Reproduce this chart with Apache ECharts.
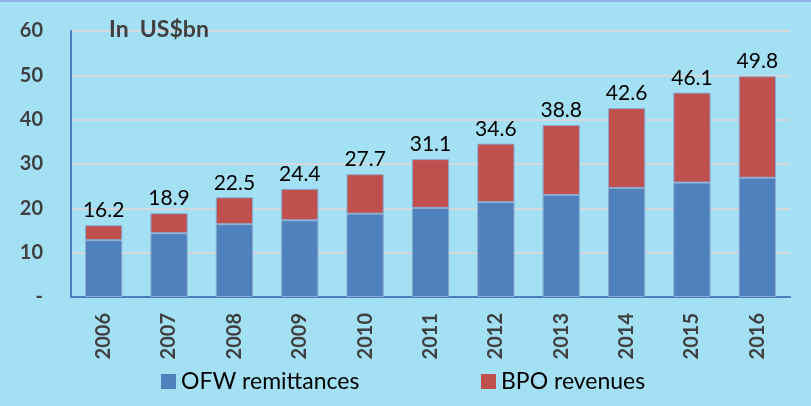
<!DOCTYPE html>
<html>
<head>
<meta charset="utf-8">
<script src="https://cdn.jsdelivr.net/npm/echarts@6/dist/echarts.min.js"></script>
<style>
  html, body { margin: 0; padding: 0; background: #a3e0f4; }
  #chart { width: 811px; height: 406px; }
</style>
</head>
<body>
<div id="chart"></div>
<script>
// Данные с картинки (млрд долл. США)
const years = ['2006', '2007', '2008', '2009', '2010', '2011', '2012', '2013', '2014', '2015', '2016'];
const ofwRemittances = [12.8, 14.4, 16.4, 17.3, 18.8, 20.1, 21.4, 23.0, 24.6, 25.8, 26.9];
const bpoRevenues = [3.4, 4.5, 6.1, 7.1, 8.9, 11.0, 13.2, 15.8, 18.0, 20.3, 22.9];
const totals = ['16.2', '18.9', '22.5', '24.4', '27.7', '31.1', '34.6', '38.8', '42.6', '46.1', '49.8'];
const yTicks = { min: 0, max: 60, step: 10 };

const FONT = 'Lato, "Open Sans", sans-serif';
const chart = echarts.init(document.getElementById('chart'));

const legendBase = {
  bottom: 8,
  itemWidth: 15,
  itemHeight: 15,
  icon: 'rect',
  itemStyle: { borderWidth: 0 },
  textStyle: { fontSize: 23, color: '#000', fontFamily: FONT },
};

chart.setOption({
  backgroundColor: '#a3e0f4',
  animation: false,
  textStyle: { fontFamily: FONT },
  graphic: [
    { type: 'rect', shape: { x: 0, y: 0, width: 811, height: 2 }, style: { fill: '#8fb2e2' } },
    {
      type: 'text', left: 109, top: 18, z: 10,
      style: { text: 'In  US$bn', font: `bold 23px ${FONT}`, fill: '#404040' },
    },
  ],
  grid: { left: 71, right: 21, top: 31, bottom: 109 },
  legend: [
    Object.assign({ left: 156, data: ['OFW remittances'] }, legendBase),
    Object.assign({ left: 476, data: ['BPO revenues'] }, legendBase),
  ],
  xAxis: {
    type: 'category',
    data: years,
    axisLine: { lineStyle: { color: '#4a7fc4', width: 2 } },
    axisTick: { show: false },
    axisLabel: {
      rotate: 90, margin: 16,
      fontSize: 20, fontWeight: 'bold', color: '#404040', fontFamily: FONT,
    },
  },
  yAxis: {
    type: 'value',
    min: yTicks.min, max: yTicks.max, interval: yTicks.step,
    axisLine: { show: true, lineStyle: { color: '#4a7fc4', width: 2 } },
    axisTick: { show: false },
    splitLine: { lineStyle: { color: '#d4d8da', width: 2 } },
    axisLabel: {
      margin: 28,
      fontSize: 20, fontWeight: 'bold', color: '#404040', fontFamily: FONT,
      formatter: (v) => (v === 0 ? '-' : String(v)),
    },
  },
  series: [
    {
      name: 'OFW remittances',
      type: 'bar',
      stack: 'total',
      barWidth: '57%',
      data: ofwRemittances,
      itemStyle: { color: '#4f81bd', borderColor: '#8aaad0', borderWidth: 1 },
    },
    {
      name: 'BPO revenues',
      type: 'bar',
      stack: 'total',
      data: bpoRevenues,
      itemStyle: { color: '#c0504d', borderColor: '#8aaad0', borderWidth: 1 },
      label: {
        show: true,
        position: 'top',
        distance: 4,
        fontSize: 21,
        color: '#000',
        fontFamily: FONT,
        formatter: (p) => totals[p.dataIndex],
      },
    },
  ],
});
</script>
</body>
</html>
